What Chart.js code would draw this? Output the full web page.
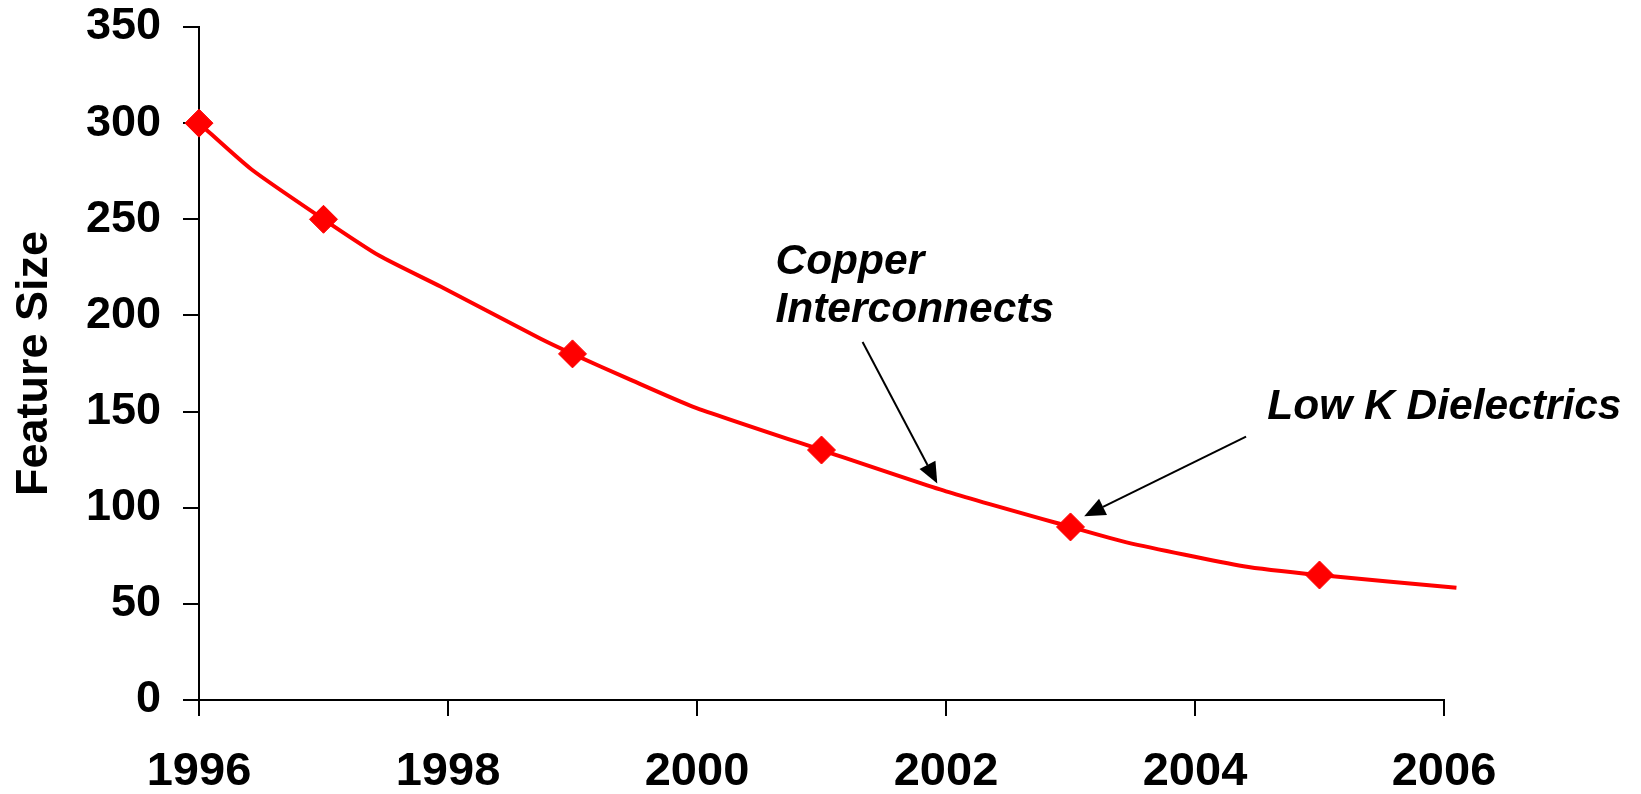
<!DOCTYPE html>
<html>
<head>
<meta charset="utf-8">
<script src="https://cdn.jsdelivr.net/npm/chart.js@4.4.1/dist/chart.umd.min.js"></script>
<style>
  html, body { margin: 0; padding: 0; background: #ffffff; }
  #wrap { width: 1641px; height: 794px; position: relative; }
</style>
</head>
<body>
<div id="wrap"><canvas id="chart"></canvas></div>
<script>
// Measured feature sizes (nm) by year
const years = [1996, 1997, 1999, 2001, 2003, 2005];
const featureSize = [300, 250, 180, 130, 90, 65];

// Fitted trend curve through the measurements
const curveYears = [1996, 1996.42, 1997, 1997.45, 1997.94, 1998.74, 1999, 1999.45, 1999.97, 2001, 2002, 2003, 2003.45, 2004.39, 2005, 2006.1];
const curveValues = [300, 276, 250, 231, 215, 188, 180, 167, 152.5, 130, 108.5, 90, 82, 69.6, 65, 58.4];

// Axis tick values
const yearTicks = [1996, 1998, 2000, 2002, 2004, 2006];
const sizeTicks = [0, 50, 100, 150, 200, 250, 300, 350];

// Callout labels and their arrows (data coordinates)
const callouts = [
  { lines: ['Copper', 'Interconnects'], x: 2000.63, y: 221.7, from: [2001.33, 186.2], to: [2001.93, 112.6] },
  { lines: ['Low K Dielectrics'], x: 2004.58, y: 146.3, from: [2004.41, 137.0], to: [2003.11, 95.6] }
];

const FONT = '"Liberation Sans", Arial, Helvetica, sans-serif';
const RED = '#ff0000';

const calloutPlugin = {
  id: 'callouts',
  afterDatasetsDraw(chart) {
    const { ctx, scales: { x, y } } = chart;
    ctx.save();
    for (const c of callouts) {
      // arrow shaft
      const x0 = x.getPixelForValue(c.from[0]), y0 = y.getPixelForValue(c.from[1]);
      const x1 = x.getPixelForValue(c.to[0]), y1 = y.getPixelForValue(c.to[1]);
      const ang = Math.atan2(y1 - y0, x1 - x0);
      const headLen = 21, headHalf = 9;
      const bx = x1 - headLen * Math.cos(ang), by = y1 - headLen * Math.sin(ang);
      ctx.strokeStyle = '#000';
      ctx.lineWidth = 2;
      ctx.beginPath();
      ctx.moveTo(x0, y0);
      ctx.lineTo(bx, by);
      ctx.stroke();
      // arrow head
      ctx.fillStyle = '#000';
      ctx.beginPath();
      ctx.moveTo(x1, y1);
      ctx.lineTo(bx + headHalf * Math.sin(ang), by - headHalf * Math.cos(ang));
      ctx.lineTo(bx - headHalf * Math.sin(ang), by + headHalf * Math.cos(ang));
      ctx.closePath();
      ctx.fill();
      // label text
      ctx.font = 'italic bold 42.5px ' + FONT;
      ctx.textAlign = 'left';
      ctx.textBaseline = 'alphabetic';
      const tx = x.getPixelForValue(c.x), ty = y.getPixelForValue(c.y);
      c.lines.forEach((line, i) => ctx.fillText(line, tx, ty + i * 48));
    }
    ctx.restore();
  }
};

new Chart(document.getElementById('chart'), {
  type: 'scatter',
  data: {
    datasets: [
      {
        type: 'line',
        label: 'Trend',
        data: curveYears.map((yr, i) => ({ x: yr, y: curveValues[i] })),
        borderColor: RED,
        borderWidth: 4,
        pointRadius: 0,
        tension: 0.2,
        fill: false,
        clip: false,
        order: 2
      },
      {
        label: 'Feature Size',
        data: years.map((yr, i) => ({ x: yr, y: featureSize[i] })),
        pointStyle: 'rectRot',
        pointRadius: 14,
        pointBackgroundColor: RED,
        pointBorderColor: RED,
        pointBorderWidth: 1,
        clip: false,
        order: 1
      }
    ]
  },
  options: {
    responsive: true,
    maintainAspectRatio: false,
    animation: false,
    layout: { padding: { top: 27, right: 197, left: 0, bottom: 0 } },
    plugins: {
      legend: { display: false },
      tooltip: { enabled: false }
    },
    scales: {
      x: {
        type: 'linear',
        min: 1996,
        max: 2006,
        afterBuildTicks: s => { s.ticks = yearTicks.map(v => ({ value: v })); },
        afterFit: s => { s.height = 94; s.paddingLeft = 0; s.paddingRight = 0; },
        border: { display: true, color: '#000', width: 2 },
        grid: { drawOnChartArea: false, drawTicks: true, tickLength: 16, color: '#000', lineWidth: 2 },
        ticks: {
          color: '#000',
          padding: 28,
          maxRotation: 0,
          font: { family: FONT, size: 47, weight: 'bold' },
          callback: v => String(v)
        }
      },
      y: {
        min: 0,
        max: 350,
        afterBuildTicks: s => { s.ticks = sizeTicks.map(v => ({ value: v })); },
        afterFit: s => { s.width = 199; s.paddingTop = 0; s.paddingBottom = 0; },
        border: { display: true, color: '#000', width: 2 },
        grid: { drawOnChartArea: false, drawTicks: true, tickLength: 16, color: '#000', lineWidth: 2 },
        ticks: {
          color: '#000',
          padding: 22,
          font: { family: FONT, size: 45, weight: 'bold' }
        },
        title: {
          display: true,
          text: 'Feature Size',
          color: '#000',
          padding: { top: 8, bottom: 0 },
          font: { family: FONT, size: 45, weight: 'bold' }
        }
      }
    }
  },
  plugins: [calloutPlugin]
});
</script>
</body>
</html>
